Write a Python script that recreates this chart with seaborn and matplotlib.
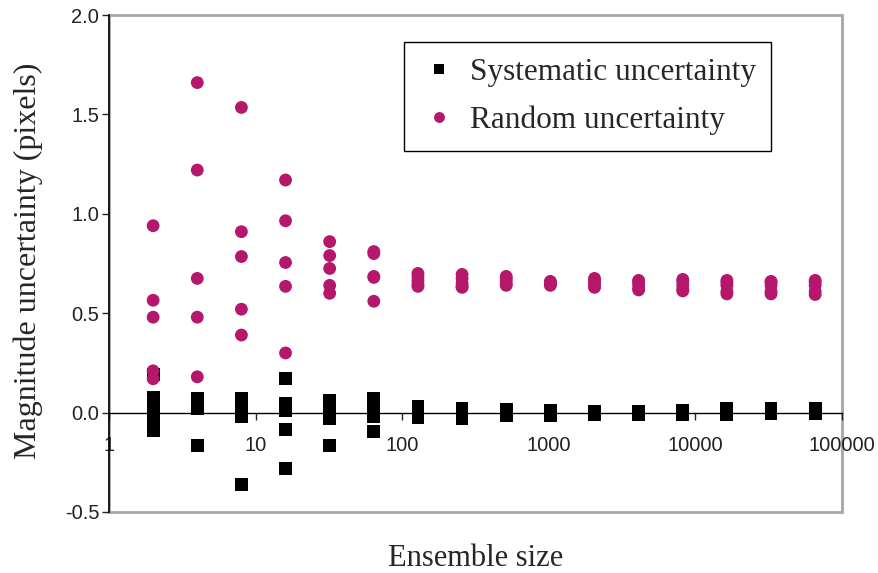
import pandas as pd
import matplotlib.pyplot as plt
import seaborn as sns
from matplotlib.patches import Rectangle
from matplotlib.ticker import FixedLocator, FixedFormatter

# ── data ─────────────────────────────────────────────────
sizes = [2, 4, 8, 16, 32, 64, 128, 256, 512, 1024, 2048, 4096,
         8192, 16384, 32768, 65536]

systematic = [
    [0.19, 0.075, 0.03, -0.04, -0.09],
    [0.07, 0.055, 0.035, 0.02, -0.165],
    [0.07, 0.04, 0.01, -0.02, -0.36],
    [0.17, 0.045, 0.01, -0.085, -0.28],
    [0.06, 0.03, 0.0, -0.03, -0.165],
    [0.07, 0.04, 0.01, -0.02, -0.095],
    [0.03, 0.015, 0.0, -0.015, -0.025],
    [0.02, 0.005, -0.01, -0.02, -0.03],
    [0.015, 0.005, 0.0, -0.01, -0.015],
    [0.01, 0.005, -0.005, -0.01, -0.015],
    [0.005, 0.0, -0.005, -0.008, -0.01],
    [0.005, 0.0, -0.005, -0.008, -0.01],
    [0.01, 0.005, 0.0, -0.005, -0.01],
    [0.02, 0.01, 0.0, -0.005, -0.01],
    [0.02, 0.01, 0.005, 0.0, -0.005],
    [0.02, 0.015, 0.005, 0.0, -0.005],
]

random_unc = [
    [0.94, 0.565, 0.48, 0.21, 0.17],
    [1.66, 1.22, 0.675, 0.48, 0.18],
    [1.535, 0.91, 0.785, 0.52, 0.39],
    [1.17, 0.965, 0.755, 0.635, 0.30],
    [0.86, 0.79, 0.725, 0.64, 0.60],
    [0.81, 0.80, 0.685, 0.68, 0.56],
    [0.70, 0.685, 0.665, 0.645, 0.635],
    [0.695, 0.675, 0.65, 0.635, 0.63],
    [0.685, 0.675, 0.66, 0.645, 0.64],
    [0.66, 0.655, 0.65, 0.645, 0.64],
    [0.675, 0.665, 0.65, 0.635, 0.63],
    [0.665, 0.66, 0.645, 0.625, 0.617],
    [0.67, 0.66, 0.64, 0.62, 0.612],
    [0.665, 0.655, 0.64, 0.61, 0.597],
    [0.66, 0.655, 0.64, 0.61, 0.597],
    [0.665, 0.655, 0.64, 0.61, 0.594],
]

series_names = ['Systematic uncertainty', 'Random uncertainty']
x_ticks = [1, 10, 100, 1000, 10000, 100000]
x_tick_labels = ['1', '10', '100', '1000', '10000', '100000']
y_ticks = [-0.5, 0.0, 0.5, 1.0, 1.5, 2.0]

# ── long table for seaborn ───────────────────────────────
rows = []
for name, series in zip(series_names, [systematic, random_unc]):
    for n, vals in zip(sizes, series):
        for v in vals:
            rows.append({'size': n, 'value': v, 'kind': name})
df = pd.DataFrame(rows)

# ── plot ─────────────────────────────────────────────────
sns.set_style('white')
fig = plt.figure(figsize=(8.79, 5.73), dpi=100)
ax = fig.add_axes([0.124, 0.1065, 0.834, 0.8673])

sns.scatterplot(data=df, x='size', y='value', hue='kind', style='kind',
                hue_order=series_names, style_order=series_names,
                palette={'Systematic uncertainty': 'black',
                         'Random uncertainty': '#B5176B'},
                markers={'Systematic uncertainty': 's',
                         'Random uncertainty': 'o'},
                s=85, linewidth=0, ax=ax)

ax.set_xscale('log')
ax.set_xlim(1, 100000)
ax.set_ylim(-0.5, 2.0)

# plot-area frame (gray) and axes
ax.add_patch(Rectangle((0, 0), 1, 1, transform=ax.transAxes, fill=False,
                       edgecolor='#a6a6a6', lw=2, clip_on=False, zorder=0))
for side in ['top', 'right']:
    ax.spines[side].set_visible(False)
ax.spines['left'].set_color('black')
ax.spines['left'].set_linewidth(1.2)
ax.spines['bottom'].set_position(('data', 0))
ax.spines['bottom'].set_color('black')
ax.spines['bottom'].set_linewidth(1.0)

ax.xaxis.set_major_locator(FixedLocator(x_ticks))
ax.xaxis.set_major_formatter(FixedFormatter(x_tick_labels))
ax.xaxis.set_minor_locator(FixedLocator([]))
ax.set_yticks(y_ticks)
ax.set_yticklabels([f'{v:.1f}' for v in y_ticks])

ax.tick_params(axis='x', direction='out', length=5, width=1, pad=12,
               labelsize=14.5, labelcolor='#222222', bottom=True)
ax.tick_params(axis='y', direction='out', length=5, width=1, pad=2,
               labelsize=14.5, labelcolor='#222222', left=True)
for lab in ax.get_xticklabels() + ax.get_yticklabels():
    lab.set_family('Liberation Sans')

ax.set_xlabel('Ensemble size', family='Liberation Serif', fontsize=22,
              labelpad=0)
ax.xaxis.set_label_coords(0.5, -0.065)
ax.set_ylabel('Magnitude uncertainty (pixels)', family='Liberation Serif',
              fontsize=23)
ax.yaxis.set_label_coords(-0.09, 0.505)

sns.move_legend(ax, 'upper left', bbox_to_anchor=(0.4596, 0.9267),
                bbox_transform=fig.transFigure, title=None, frameon=True,
                fancybox=False, edgecolor='black', framealpha=1,
                prop={'family': 'Liberation Serif', 'size': 22.5},
                handletextpad=0.35, borderpad=0.5, labelspacing=0.6,
                borderaxespad=0, markerscale=0.85, handlelength=1.25)
ax.get_legend().get_frame().set_linewidth(1.0)

plt.savefig('out.png', dpi=100)
